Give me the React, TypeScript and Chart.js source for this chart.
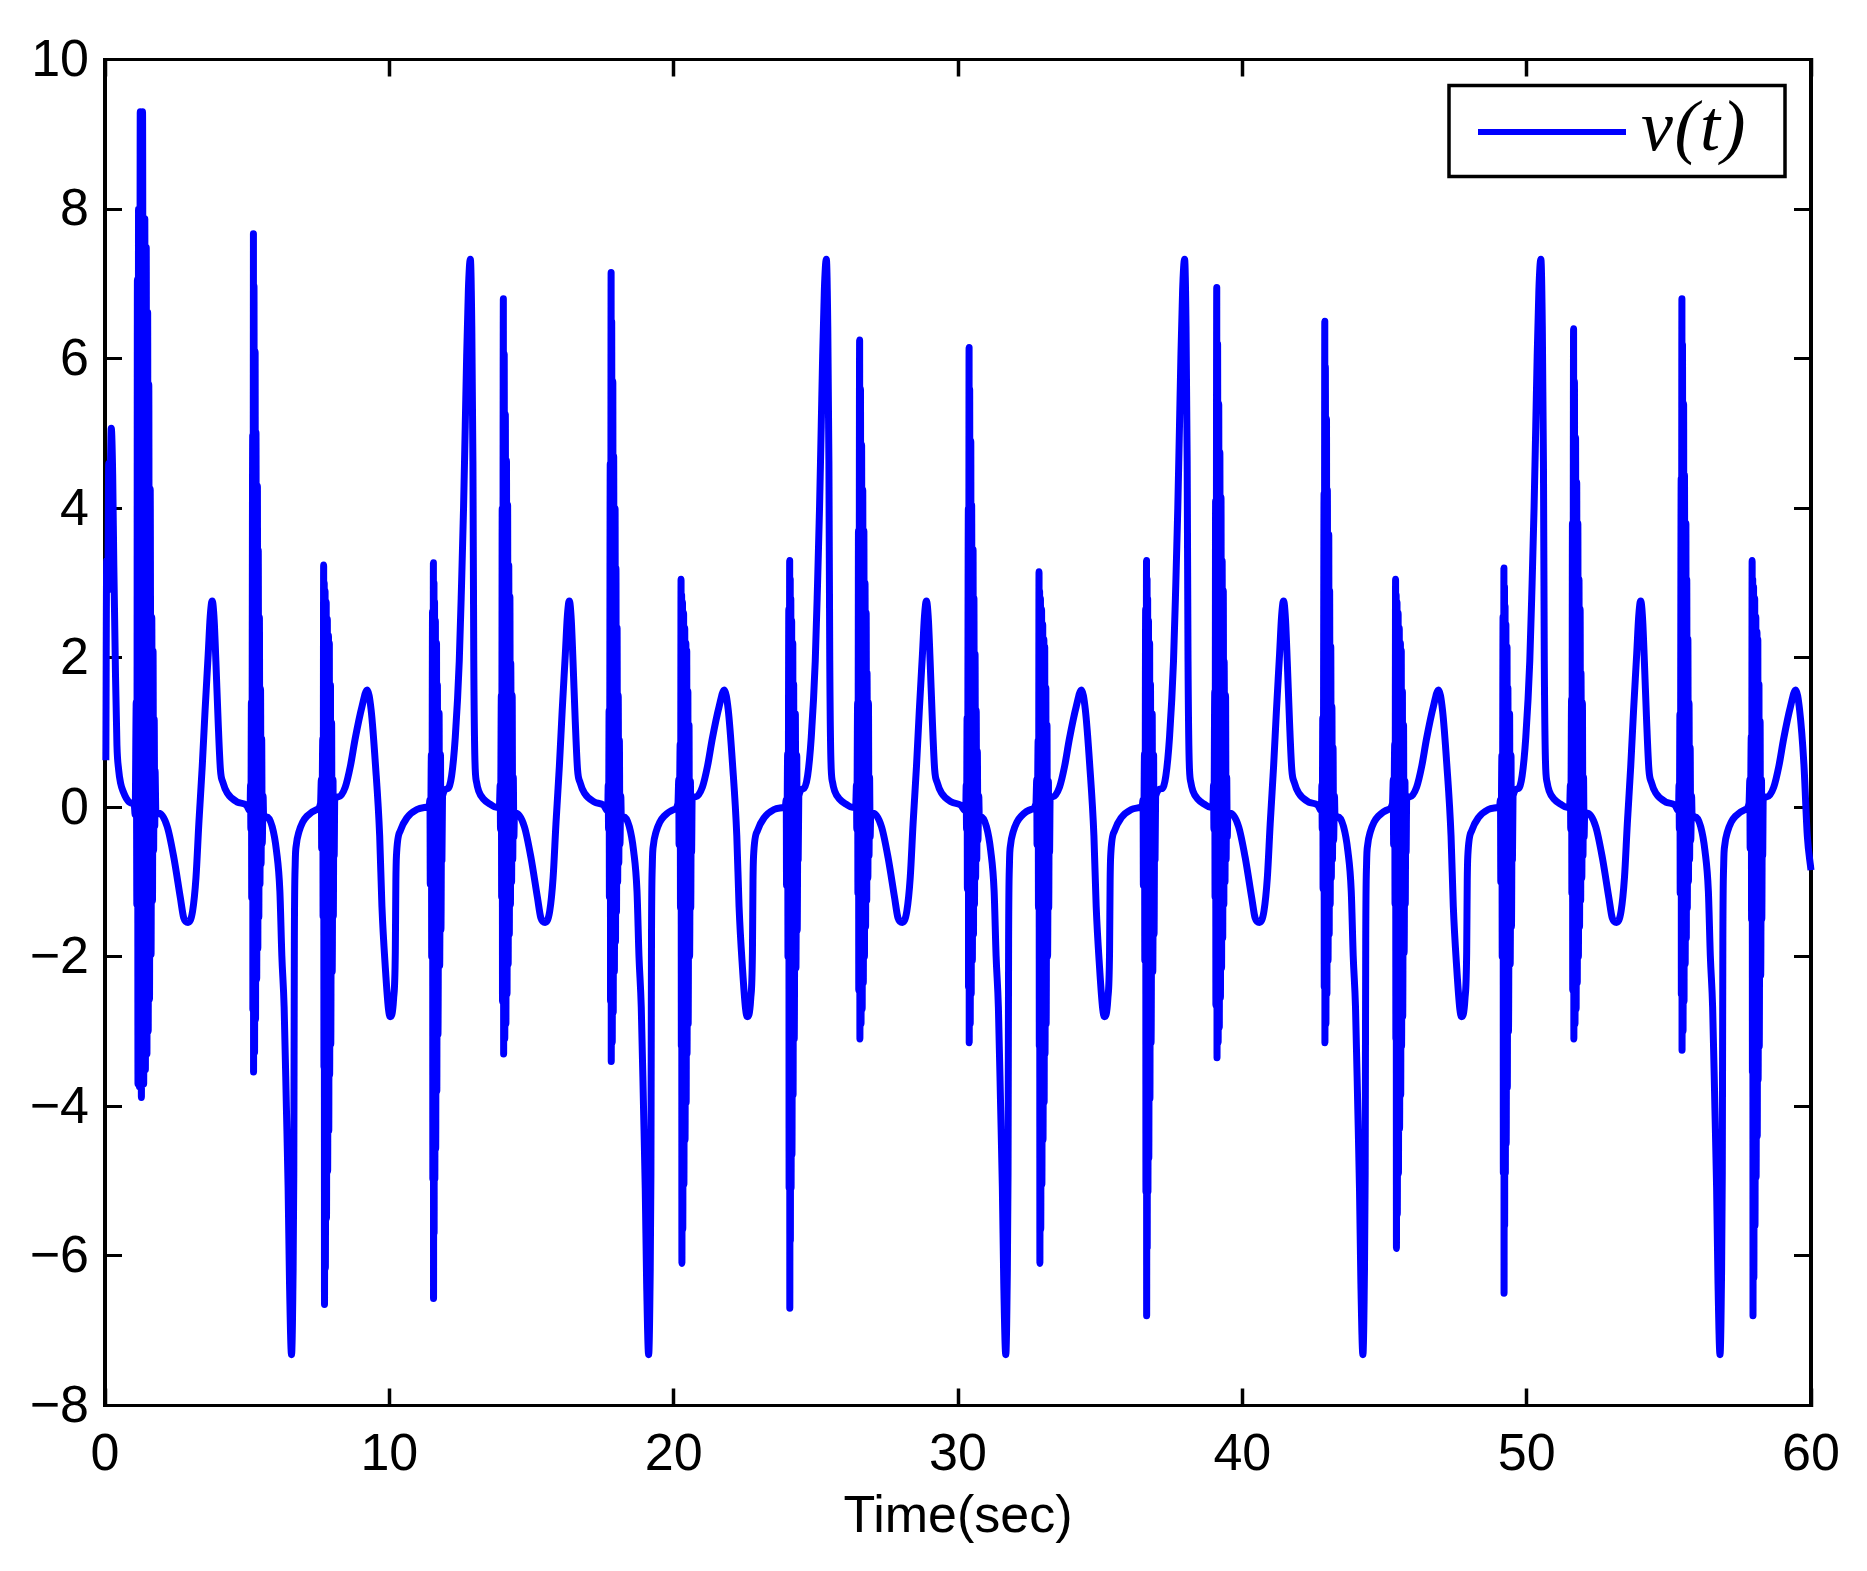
import React, { useRef, useEffect } from "react";
import { Chart, registerables, ChartConfiguration, Plugin } from "chart.js";

Chart.register(...registerables);

type Pt = [number, number];

const xTicks = [0, 10, 20, 30, 40, 50, 60];
const yTicks = [-8, -6, -4, -2, 0, 2, 4, 6, 8, 10];
const yTickLabels = ["\u22128", "\u22126", "\u22124", "\u22122", "0", "2", "4", "6", "8", "10"];
const xTitle = "Time(sec)";
const legendText = "v(t)";

// [time, v], one stretch of the trace per array
const startup: Pt[] = [[0.03,0.63],[0.06,3.3],[0.1,2.9],[0.13,4.6],[0.17,4.2],[0.22,5.07],[0.27,4.45],[0.31,3.24],[0.37,1.75],[0.42,0.83],[0.48,0.5],[0.55,0.32],[0.65,0.2],[0.75,0.12],[0.9,0.06],[1.03,0.03]];
const burst0: Pt[] = [[1.06,-0.1],[1.1,1.41],[1.12,-1.3],[1.14,7.06],[1.16,-3.7],[1.18,8],[1.21,-3.74],[1.24,9.3],[1.28,-3.88],[1.32,9.3],[1.36,-3.7],[1.4,7.87],[1.42,-3.51],[1.45,7.49],[1.475,-3.3],[1.5,6.62],[1.52,-3],[1.54,5.66],[1.565,-2.57],[1.59,4.26],[1.62,-1.97],[1.645,2.54],[1.67,-1.25],[1.69,2.09],[1.71,-0.58],[1.73,1.18],[1.75,-0.25],[1.76,0.5],[1.79,-0.1]];

const swingA1: Pt[] = [[1.9,-0.08],[2.19,-0.26],[2.42,-0.67],[2.65,-1.21],[2.77,-1.48],[2.92,-1.54],[3.08,-1.39],[3.2,-0.94],[3.3,-0.22],[3.42,0.55],[3.52,1.3],[3.63,2.05],[3.7,2.55],[3.77,2.76],[3.84,2.5],[3.9,1.95],[3.98,1.14],[4.06,0.5],[4.15,0.33],[4.3,0.19],[4.65,0.07],[4.97,0.03]];
const burstA1: Pt[] = [[5.1,-0.05],[5.12,0.3],[5.13,-0.3],[5.15,1.41],[5.16,-1.21],[5.195,4.98],[5.2,-2.7],[5.22,7.67],[5.225,-3.54],[5.24,6.97],[5.26,-3.28],[5.28,6.1],[5.295,-2.84],[5.31,5.02],[5.335,-2.3],[5.36,4.3],[5.375,-1.89],[5.39,3.44],[5.41,-1.47],[5.43,2.54],[5.45,-1.03],[5.47,1.59],[5.49,-0.76],[5.51,0.92],[5.53,-0.49],[5.56,0.15],[5.58,-0.15]];
const swingB1: Pt[] = [[5.7,-0.13],[5.88,-0.26],[6.03,-0.58],[6.15,-1.12],[6.22,-1.99],[6.3,-2.67],[6.38,-4.02],[6.44,-5.09],[6.49,-6.37],[6.56,-7.32],[6.61,-6.37],[6.64,-4.9],[6.66,-1.78],[6.69,-0.75],[6.73,-0.5],[6.82,-0.33],[6.95,-0.2],[7.1,-0.12],[7.45,-0.03]];
const burstB1: Pt[] = [[7.58,0.05],[7.61,0.37],[7.62,-0.55],[7.66,0.92],[7.67,-1.46],[7.69,3.24],[7.7,-3.48],[7.71,3],[7.72,-6.65],[7.74,2.9],[7.75,-6.17],[7.78,2.75],[7.79,-5.5],[7.82,2.52],[7.83,-4.87],[7.86,2.3],[7.87,-4.33],[7.89,2.2],[7.9,-3.58],[7.93,1.64],[7.94,-3.17],[7.97,1.13],[7.99,-2.2],[8.02,0.37],[8.03,-1.46],[8.05,0.15],[8.06,-0.65],[8.08,0.12]];
const swingC1: Pt[] = [[8.22,0.14],[8.45,0.27],[8.63,0.55],[8.8,0.92],[9.04,1.35],[9.22,1.57],[9.36,1.3],[9.51,0.58],[9.66,-0.38],[9.74,-1.33],[9.86,-2.15],[9.97,-2.7],[10.03,-2.8],[10.15,-2.56],[10.21,-1.94],[10.23,-0.99],[10.25,-0.65],[10.39,-0.31],[10.62,-0.14],[10.97,-0.03],[11.3,0]];
const burstC1: Pt[] = [[11.4,0.02],[11.43,0.1],[11.44,-1.03],[11.48,0.71],[11.49,-2],[11.52,2.62],[11.53,-4.98],[11.55,3.27],[11.555,-6.57],[11.57,3],[11.575,-5.7],[11.59,2.76],[11.6,-4.98],[11.62,2.5],[11.63,-4.57],[11.66,2.2],[11.67,-3.8],[11.69,1.64],[11.71,-3.04],[11.75,1.26],[11.77,-2.12],[11.8,0.71],[11.815,-1.64],[11.84,0.1],[11.85,-0.71],[11.87,0.15]];
const swingD1: Pt[] = [[12.05,0.25],[12.19,0.42],[12.32,0.94],[12.46,1.96],[12.54,2.98],[12.61,4],[12.67,5.1],[12.72,6.04],[12.78,6.92],[12.85,7.33],[12.9,6.43],[12.94,4.62],[12.97,1.96],[13.01,0.63],[13.07,0.33],[13.14,0.22],[13.31,0.11],[13.55,0.04],[13.76,0]];
const burstD1: Pt[] = [[13.87,0],[13.9,0.3],[13.91,-0.3],[13.94,1.5],[13.95,-1.2],[13.97,4],[13.98,-2.6],[14.01,6.8],[14.02,-3.3],[14.04,6.07],[14.06,-3.1],[14.08,5.26],[14.1,-2.9],[14.12,4.64],[14.14,-2.5],[14.16,4.05],[14.18,-2.1],[14.2,3.24],[14.22,-1.7],[14.24,2.82],[14.26,-1.3],[14.27,1.93],[14.3,-1],[14.32,1.5],[14.34,-0.7],[14.36,0.4],[14.38,-0.4],[14.4,-0.09]];

const swingA2: Pt[] = [[14.46,-0.08],[14.75,-0.26],[14.98,-0.67],[15.21,-1.21],[15.33,-1.48],[15.48,-1.54],[15.64,-1.39],[15.76,-0.94],[15.86,-0.22],[15.98,0.55],[16.08,1.3],[16.19,2.05],[16.26,2.55],[16.33,2.76],[16.4,2.5],[16.46,1.95],[16.54,1.14],[16.62,0.5],[16.71,0.33],[16.86,0.19],[17.21,0.07],[17.53,0.03]];
const burstA2: Pt[] = [[17.68,-0.05],[17.7,0.3],[17.71,-0.3],[17.73,1.3],[17.74,-1.2],[17.77,4.6],[17.78,-2.6],[17.8,7.15],[17.805,-3.4],[17.82,6.5],[17.84,-3.15],[17.86,5.7],[17.875,-2.75],[17.89,4.7],[17.915,-2.2],[17.94,4],[17.955,-1.8],[17.97,3.2],[17.99,-1.4],[18.01,2.4],[18.03,-1],[18.05,1.5],[18.07,-0.75],[18.09,0.9],[18.11,-0.5],[18.14,0.15],[18.16,-0.15]];
const swingB2: Pt[] = [[18.26,-0.13],[18.44,-0.26],[18.59,-0.58],[18.71,-1.12],[18.78,-1.99],[18.86,-2.67],[18.94,-4.02],[19,-5.09],[19.05,-6.37],[19.12,-7.32],[19.17,-6.37],[19.2,-4.9],[19.22,-1.78],[19.25,-0.75],[19.29,-0.5],[19.38,-0.33],[19.51,-0.2],[19.66,-0.12],[20.01,-0.03]];
const burstB2: Pt[] = [[20.15,0.05],[20.18,0.37],[20.19,-0.5],[20.23,0.85],[20.24,-1.35],[20.26,3.05],[20.27,-3.2],[20.28,2.85],[20.29,-6.1],[20.31,2.75],[20.32,-5.65],[20.35,2.6],[20.36,-5.05],[20.39,2.4],[20.4,-4.45],[20.43,2.2],[20.44,-3.95],[20.46,2.1],[20.47,-3.3],[20.5,1.55],[20.51,-2.9],[20.54,1.1],[20.56,-2],[20.59,0.35],[20.6,-1.35],[20.62,0.15],[20.63,-0.6],[20.65,0.12]];
const swingC2: Pt[] = [[20.78,0.14],[21.01,0.27],[21.19,0.55],[21.36,0.92],[21.6,1.35],[21.78,1.57],[21.92,1.3],[22.07,0.58],[22.22,-0.38],[22.3,-1.33],[22.42,-2.15],[22.53,-2.7],[22.59,-2.8],[22.71,-2.56],[22.77,-1.94],[22.79,-0.99],[22.81,-0.65],[22.95,-0.31],[23.18,-0.14],[23.53,-0.03],[23.86,0]];
const burstC2: Pt[] = [[23.93,0.02],[23.96,0.1],[23.97,-1.05],[24.01,0.72],[24.02,-2],[24.05,2.65],[24.06,-5.1],[24.08,3.3],[24.085,-6.7],[24.1,3.05],[24.105,-5.8],[24.12,2.8],[24.13,-5.1],[24.15,2.5],[24.16,-4.65],[24.19,2.2],[24.2,-3.85],[24.22,1.65],[24.24,-3.1],[24.28,1.25],[24.3,-2.15],[24.33,0.7],[24.345,-1.65],[24.37,0.1],[24.38,-0.7],[24.4,0.15]];
const swingD2: Pt[] = [[24.57,0.25],[24.71,0.42],[24.84,0.94],[24.98,1.96],[25.06,2.98],[25.13,4],[25.19,5.1],[25.24,6.04],[25.3,6.92],[25.37,7.33],[25.42,6.43],[25.46,4.62],[25.49,1.96],[25.53,0.63],[25.59,0.33],[25.66,0.22],[25.83,0.11],[26.07,0.04],[26.28,0]];
const burstD2: Pt[] = [[26.4,0],[26.43,0.3],[26.44,-0.3],[26.47,1.4],[26.48,-1.15],[26.5,3.7],[26.51,-2.45],[26.54,6.25],[26.55,-3.1],[26.57,5.6],[26.59,-2.9],[26.61,4.85],[26.63,-2.7],[26.65,4.25],[26.67,-2.35],[26.69,3.7],[26.71,-2],[26.73,3],[26.75,-1.6],[26.77,2.6],[26.79,-1.25],[26.8,1.8],[26.83,-0.95],[26.85,1.4],[26.87,-0.65],[26.89,0.4],[26.91,-0.4],[26.93,-0.09]];

const swingA3: Pt[] = [[27.02,-0.08],[27.31,-0.26],[27.54,-0.67],[27.77,-1.21],[27.89,-1.48],[28.04,-1.54],[28.2,-1.39],[28.32,-0.94],[28.42,-0.22],[28.54,0.55],[28.64,1.3],[28.75,2.05],[28.82,2.55],[28.89,2.76],[28.96,2.5],[29.02,1.95],[29.1,1.14],[29.18,0.5],[29.27,0.33],[29.42,0.19],[29.77,0.07],[30.09,0.03]];
const burstA3: Pt[] = [[30.27,-0.05],[30.29,0.3],[30.3,-0.3],[30.32,1.2],[30.33,-1.1],[30.365,4],[30.37,-2.4],[30.39,6.15],[30.395,-3.15],[30.41,5.6],[30.43,-2.9],[30.45,4.9],[30.465,-2.5],[30.48,4.05],[30.505,-2.05],[30.53,3.45],[30.545,-1.7],[30.56,2.8],[30.58,-1.3],[30.6,2.05],[30.62,-0.95],[30.64,1.3],[30.66,-0.7],[30.68,0.75],[30.7,-0.45],[30.73,0.15],[30.75,-0.15]];
const swingB3: Pt[] = [[30.82,-0.13],[31,-0.26],[31.15,-0.58],[31.27,-1.12],[31.34,-1.99],[31.42,-2.67],[31.5,-4.02],[31.56,-5.09],[31.61,-6.37],[31.68,-7.32],[31.73,-6.37],[31.76,-4.9],[31.78,-1.78],[31.81,-0.75],[31.85,-0.5],[31.94,-0.33],[32.07,-0.2],[32.22,-0.12],[32.57,-0.03]];
const burstB3: Pt[] = [[32.74,0.05],[32.77,0.37],[32.78,-0.5],[32.82,0.9],[32.83,-1.35],[32.85,3.15],[32.86,-3.2],[32.87,2.9],[32.88,-6.1],[32.9,2.8],[32.91,-5.65],[32.94,2.65],[32.95,-5.05],[32.98,2.45],[32.99,-4.45],[33.02,2.25],[33.03,-3.95],[33.05,2.15],[33.06,-3.3],[33.09,1.6],[33.1,-2.9],[33.13,1.1],[33.15,-2],[33.18,0.35],[33.19,-1.35],[33.21,0.15],[33.22,-0.6],[33.24,0.12]];
const swingC3: Pt[] = [[33.34,0.14],[33.57,0.27],[33.75,0.55],[33.92,0.92],[34.16,1.35],[34.34,1.57],[34.48,1.3],[34.63,0.58],[34.78,-0.38],[34.86,-1.33],[34.98,-2.15],[35.09,-2.7],[35.15,-2.8],[35.27,-2.56],[35.33,-1.94],[35.35,-0.99],[35.37,-0.65],[35.51,-0.31],[35.74,-0.14],[36.09,-0.03],[36.42,0]];
const burstC3: Pt[] = [[36.48,0.02],[36.51,0.1],[36.52,-1.05],[36.56,0.72],[36.57,-2.05],[36.6,2.65],[36.61,-5.15],[36.63,3.3],[36.635,-6.8],[36.65,3.05],[36.655,-5.9],[36.67,2.8],[36.68,-5.15],[36.7,2.5],[36.71,-4.7],[36.74,2.2],[36.75,-3.9],[36.77,1.65],[36.79,-3.15],[36.83,1.25],[36.85,-2.2],[36.88,0.7],[36.895,-1.7],[36.92,0.1],[36.93,-0.7],[36.95,0.15]];
const swingD3: Pt[] = [[37.17,0.25],[37.31,0.42],[37.44,0.94],[37.58,1.96],[37.66,2.98],[37.73,4],[37.79,5.1],[37.84,6.04],[37.9,6.92],[37.97,7.33],[38.02,6.43],[38.06,4.62],[38.09,1.96],[38.13,0.63],[38.19,0.33],[38.26,0.22],[38.43,0.11],[38.67,0.04],[38.88,0]];
const burstD3: Pt[] = [[38.96,0],[38.99,0.3],[39,-0.3],[39.03,1.55],[39.04,-1.2],[39.06,4.1],[39.07,-2.65],[39.1,6.95],[39.11,-3.35],[39.13,6.2],[39.15,-3.15],[39.17,5.4],[39.19,-2.95],[39.21,4.75],[39.23,-2.55],[39.25,4.15],[39.27,-2.15],[39.29,3.3],[39.31,-1.75],[39.33,2.9],[39.35,-1.3],[39.36,1.95],[39.39,-1],[39.41,1.5],[39.43,-0.7],[39.45,0.4],[39.47,-0.4],[39.49,-0.09]];

const swingA4: Pt[] = [[39.58,-0.08],[39.87,-0.26],[40.1,-0.67],[40.33,-1.21],[40.45,-1.48],[40.6,-1.54],[40.76,-1.39],[40.88,-0.94],[40.98,-0.22],[41.1,0.55],[41.2,1.3],[41.31,2.05],[41.38,2.55],[41.45,2.76],[41.52,2.5],[41.58,1.95],[41.66,1.14],[41.74,0.5],[41.83,0.33],[41.98,0.19],[42.33,0.07],[42.65,0.03]];
const burstA4: Pt[] = [[42.78,-0.05],[42.8,0.3],[42.81,-0.3],[42.83,1.2],[42.84,-1.1],[42.875,4.2],[42.88,-2.4],[42.9,6.5],[42.905,-3.15],[42.92,5.9],[42.94,-2.9],[42.96,5.2],[42.975,-2.5],[42.99,4.25],[43.015,-2.05],[43.04,3.65],[43.055,-1.7],[43.07,2.9],[43.09,-1.3],[43.11,2.15],[43.13,-0.95],[43.15,1.35],[43.17,-0.7],[43.19,0.8],[43.21,-0.45],[43.24,0.15],[43.26,-0.15]];
const swingB4: Pt[] = [[43.38,-0.13],[43.56,-0.26],[43.71,-0.58],[43.83,-1.12],[43.9,-1.99],[43.98,-2.67],[44.06,-4.02],[44.12,-5.09],[44.17,-6.37],[44.24,-7.32],[44.29,-6.37],[44.32,-4.9],[44.34,-1.78],[44.37,-0.75],[44.41,-0.5],[44.5,-0.33],[44.63,-0.2],[44.78,-0.12],[45.13,-0.03]];
const burstB4: Pt[] = [[45.28,0.05],[45.31,0.37],[45.32,-0.5],[45.36,0.85],[45.37,-1.3],[45.39,3.05],[45.4,-3.1],[45.41,2.85],[45.42,-5.9],[45.44,2.75],[45.45,-5.45],[45.48,2.6],[45.49,-4.9],[45.52,2.4],[45.53,-4.3],[45.56,2.2],[45.57,-3.85],[45.59,2.1],[45.6,-3.2],[45.63,1.55],[45.64,-2.8],[45.67,1.1],[45.69,-1.95],[45.72,0.35],[45.73,-1.3],[45.75,0.15],[45.76,-0.6],[45.78,0.12]];
const swingC4: Pt[] = [[45.9,0.14],[46.13,0.27],[46.31,0.55],[46.48,0.92],[46.72,1.35],[46.9,1.57],[47.04,1.3],[47.19,0.58],[47.34,-0.38],[47.42,-1.33],[47.54,-2.15],[47.65,-2.7],[47.71,-2.8],[47.83,-2.56],[47.89,-1.94],[47.91,-0.99],[47.93,-0.65],[48.07,-0.31],[48.3,-0.14],[48.65,-0.03],[48.98,0]];
const burstC4: Pt[] = [[49.05,0.02],[49.08,0.1],[49.09,-1],[49.13,0.7],[49.14,-2],[49.17,2.55],[49.18,-4.9],[49.2,3.2],[49.205,-6.5],[49.22,2.95],[49.225,-5.6],[49.24,2.7],[49.25,-4.9],[49.27,2.45],[49.28,-4.5],[49.31,2.15],[49.32,-3.75],[49.34,1.6],[49.36,-3],[49.4,1.25],[49.42,-2.1],[49.45,0.7],[49.465,-1.6],[49.49,0.1],[49.5,-0.7],[49.52,0.15]];
const swingD4: Pt[] = [[49.7,0.25],[49.84,0.42],[49.97,0.94],[50.11,1.96],[50.19,2.98],[50.26,4],[50.32,5.1],[50.37,6.04],[50.43,6.92],[50.5,7.33],[50.55,6.43],[50.59,4.62],[50.62,1.96],[50.66,0.63],[50.72,0.33],[50.79,0.22],[50.96,0.11],[51.2,0.04],[51.41,0]];
const burstD4: Pt[] = [[51.51,0],[51.54,0.3],[51.55,-0.3],[51.58,1.45],[51.59,-1.15],[51.61,3.8],[51.62,-2.45],[51.65,6.4],[51.66,-3.1],[51.68,5.7],[51.7,-2.9],[51.72,4.95],[51.74,-2.7],[51.76,4.35],[51.78,-2.35],[51.8,3.8],[51.82,-2],[51.84,3.05],[51.86,-1.6],[51.88,2.65],[51.9,-1.25],[51.91,1.8],[51.94,-0.95],[51.96,1.4],[51.98,-0.65],[52,0.4],[52.02,-0.4],[52.04,-0.09]];

const swingA5: Pt[] = [[52.14,-0.08],[52.43,-0.26],[52.66,-0.67],[52.89,-1.21],[53.01,-1.48],[53.16,-1.54],[53.32,-1.39],[53.44,-0.94],[53.54,-0.22],[53.66,0.55],[53.76,1.3],[53.87,2.05],[53.94,2.55],[54.01,2.76],[54.08,2.5],[54.14,1.95],[54.22,1.14],[54.3,0.5],[54.39,0.33],[54.54,0.19],[54.89,0.07],[55.21,0.03]];
const burstA5: Pt[] = [[55.34,-0.05],[55.36,0.3],[55.37,-0.3],[55.39,1.25],[55.4,-1.15],[55.435,4.4],[55.44,-2.5],[55.46,6.8],[55.465,-3.25],[55.48,6.2],[55.5,-3],[55.52,5.4],[55.535,-2.6],[55.55,4.45],[55.575,-2.1],[55.6,3.8],[55.615,-1.75],[55.63,3.05],[55.65,-1.35],[55.67,2.25],[55.69,-1],[55.71,1.4],[55.73,-0.7],[55.75,0.8],[55.77,-0.45],[55.8,0.15],[55.82,-0.15]];
const swingB5: Pt[] = [[55.94,-0.13],[56.12,-0.26],[56.27,-0.58],[56.39,-1.12],[56.46,-1.99],[56.54,-2.67],[56.62,-4.02],[56.68,-5.09],[56.73,-6.37],[56.8,-7.32],[56.85,-6.37],[56.88,-4.9],[56.9,-1.78],[56.93,-0.75],[56.97,-0.5],[57.06,-0.33],[57.19,-0.2],[57.34,-0.12],[57.69,-0.03]];
const burstB5: Pt[] = [[57.82,0.05],[57.85,0.37],[57.86,-0.55],[57.9,0.95],[57.91,-1.5],[57.93,3.3],[57.94,-3.55],[57.95,3.05],[57.96,-6.8],[57.98,2.95],[57.99,-6.3],[58.02,2.8],[58.03,-5.6],[58.06,2.55],[58.07,-4.95],[58.1,2.35],[58.11,-4.4],[58.13,2.25],[58.14,-3.65],[58.17,1.65],[58.18,-3.2],[58.21,1.15],[58.23,-2.25],[58.26,0.37],[58.27,-1.5],[58.29,0.15],[58.3,-0.65],[58.32,0.12]];
const swingC5: Pt[] = [[58.46,0.14],[58.69,0.27],[58.87,0.55],[59.04,0.92],[59.28,1.35],[59.46,1.57],[59.6,1.3],[59.75,0.58],[59.87,-0.38],[60,-0.84]];

const trace: Pt[] = [
  ...startup, ...burst0,
  ...swingA1, ...burstA1, ...swingB1, ...burstB1, ...swingC1, ...burstC1, ...swingD1, ...burstD1,
  ...swingA2, ...burstA2, ...swingB2, ...burstB2, ...swingC2, ...burstC2, ...swingD2, ...burstD2,
  ...swingA3, ...burstA3, ...swingB3, ...burstB3, ...swingC3, ...burstC3, ...swingD3, ...burstD3,
  ...swingA4, ...burstA4, ...swingB4, ...burstB4, ...swingC4, ...burstC4, ...swingD4, ...burstD4,
  ...swingA5, ...burstA5, ...swingB5, ...burstB5, ...swingC5,
];

const BLUE = "#0000ff";
const SANS = '"Liberation Sans", Arial, sans-serif';

// legend box in the top right corner, offset from the plot area
const legendBox: Plugin<"line"> = {
  id: "legendBox",
  afterDraw(chart) {
    const { ctx, chartArea } = chart;
    const right = chartArea.right - 26;
    const top = chartArea.top + 26;
    ctx.save();
    ctx.fillStyle = "#fff";
    ctx.fillRect(right - 336, top, 336, 91);
    ctx.strokeStyle = "#000";
    ctx.lineWidth = 3.5;
    ctx.strokeRect(right - 336, top, 336, 91);
    ctx.strokeStyle = BLUE;
    ctx.lineWidth = 6;
    ctx.beginPath();
    ctx.moveTo(right - 307, top + 46.5);
    ctx.lineTo(right - 159, top + 46.5);
    ctx.stroke();
    ctx.fillStyle = "#000";
    ctx.font = 'italic 72px "Liberation Serif", serif';
    ctx.textBaseline = "alphabetic";
    ctx.textAlign = "left";
    (ctx as any).letterSpacing = "1.5px";
    ctx.fillText(legendText, right - 144, top + 64.5);
    ctx.restore();
  },
};

// forces the axis box size; the padding reset stops tick labels pushing the plot area in
function fixed(prop: "width" | "height", size: number) {
  return (scale: any) => {
    scale[prop] = size;
    scale.paddingTop = 0;
    scale.paddingBottom = 0;
    scale.paddingLeft = 0;
    scale.paddingRight = 0;
  };
}

function xTickList(scale: any) {
  scale.ticks = xTicks.map((value) => ({ value }));
}

function yTickList(scale: any) {
  scale.ticks = yTicks.map((value) => ({ value }));
}

const axisBase = { min: 0, max: 60 };
const hGrid = { drawOnChartArea: false, tickLength: -17, tickWidth: 3.5, tickColor: "#000" };
const vGrid = { drawOnChartArea: false, tickLength: -17, tickWidth: 3, tickColor: "#000" };

function VoltageChart() {
  const canvasRef = useRef<HTMLCanvasElement>(null);

  useEffect(() => {
    if (!canvasRef.current) return;
    const ctx = canvasRef.current.getContext("2d");
    if (!ctx) return;

    const config: ChartConfiguration<"line"> = {
      type: "line",
      data: {
        datasets: [
          {
            label: legendText,
            data: trace.map(([x, y]) => ({ x, y })),
            borderColor: BLUE,
            borderWidth: 7,
            borderJoinStyle: "round",
            pointRadius: 0,
            // monotone keeps the arcs smooth and also skips the per-pixel fast path, which thins the bursts
            cubicInterpolationMode: "monotone",
            fill: false,
            clip: false,
            xAxisID: "x",
            yAxisID: "y",
          },
        ],
      },
      options: {
        animation: false,
        responsive: false,
        devicePixelRatio: 1,
        layout: { padding: 0 },
        plugins: { legend: { display: false }, tooltip: { enabled: false } },
        scales: {
          x: {
            type: "linear",
            position: "bottom",
            ...axisBase,
            afterBuildTicks: xTickList,
            afterFit: fixed("height", 165.5),
            grid: hGrid,
            border: { color: "#000", width: 3 },
            ticks: {
              color: "#000",
              font: { family: SANS, size: 52 },
              padding: 36,
              maxRotation: 0,
              autoSkip: false,
              callback: (v) => String(v),
            },
            title: {
              display: true,
              text: xTitle,
              color: "#000",
              font: { family: SANS, size: 52 },
              padding: { top: 0, bottom: 22 },
            },
          },
          x2: {
            type: "linear",
            axis: "x",
            position: "top",
            ...axisBase,
            afterBuildTicks: xTickList,
            afterFit: fixed("height", 59.5),
            grid: hGrid,
            border: { color: "#000", width: 3 },
            ticks: { display: false },
          },
          y: {
            type: "linear",
            position: "left",
            min: -8,
            max: 10,
            afterBuildTicks: yTickList,
            afterFit: fixed("width", 105),
            grid: vGrid,
            border: { color: "#000", width: 4 },
            ticks: {
              color: "#000",
              font: { family: SANS, size: 52 },
              padding: 33,
              labelOffset: 2,
              autoSkip: false,
              callback: (v) => yTickLabels[yTicks.indexOf(Number(v))],
            },
          },
          y2: {
            type: "linear",
            axis: "y",
            position: "right",
            min: -8,
            max: 10,
            afterBuildTicks: yTickList,
            afterFit: fixed("width", 56),
            grid: vGrid,
            border: { color: "#000", width: 4 },
            ticks: { display: false },
          },
        },
      },
      plugins: [legendBox],
    };

    const chartInstance = new Chart(ctx, config);
    return () => chartInstance.destroy();
  }, []);

  return <canvas ref={canvasRef} width={1867} height={1571} style={{ display: "block" }} />;
}

export default function App() {
  return (
    <div style={{ position: "absolute", left: 0, top: 0, width: 1867, height: 1571, background: "#fff" }}>
      <VoltageChart />
    </div>
  );
}
